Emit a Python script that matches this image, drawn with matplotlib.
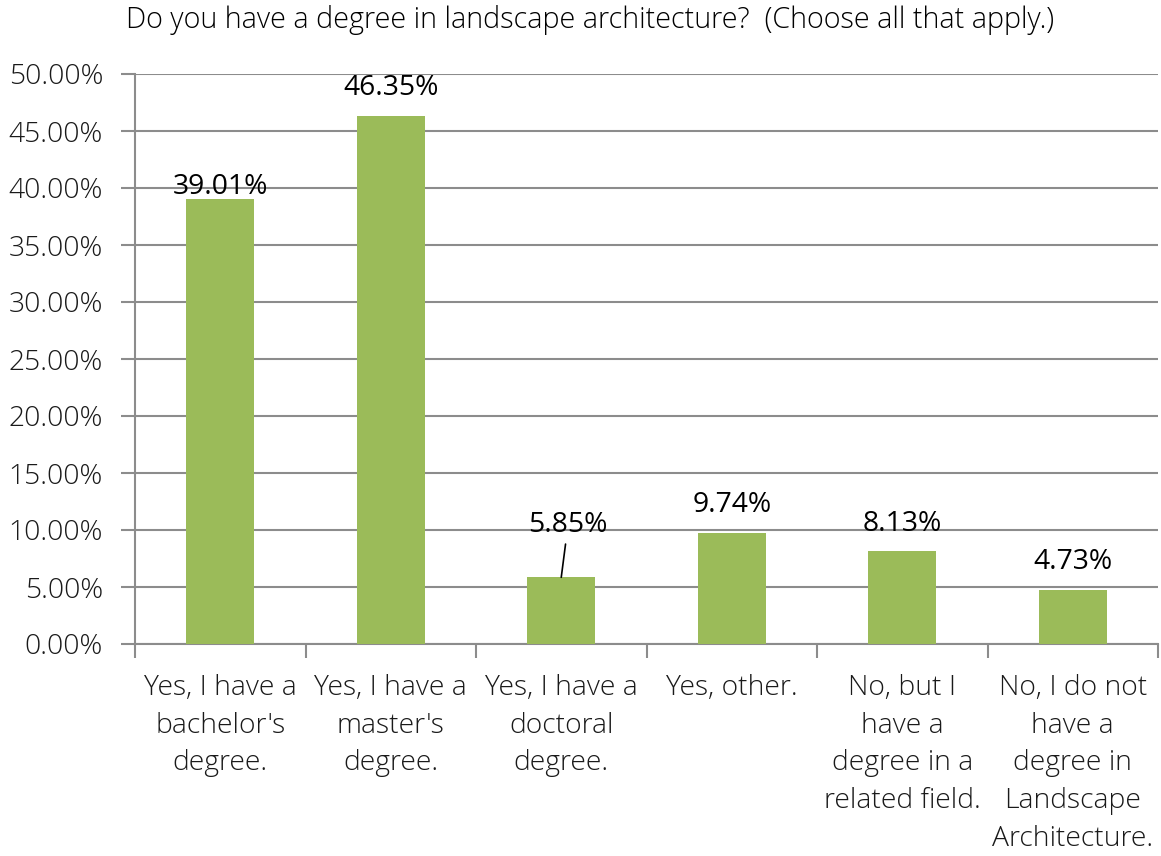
import numpy as np
import matplotlib.pyplot as plt
from matplotlib.ticker import FuncFormatter

title = 'Do you have a degree in landscape architecture?  (Choose all that apply.)'
categories = ["Yes, I have a\nbachelor's\ndegree.",
              "Yes, I have a\nmaster's\ndegree.",
              "Yes, I have a\ndoctoral\ndegree.",
              "Yes, other.",
              "No, but I\nhave a\ndegree in a\nrelated field.",
              "No, I do not\nhave a\ndegree in\nLandscape\nArchitecture."]
values = [39.01, 46.35, 5.85, 9.74, 8.13, 4.73]

plt.rcParams['font.family'] = ['Open Sans', 'DejaVu Sans']
fig = plt.figure(figsize=(11.61, 8.56), dpi=100)
ax = fig.add_axes([135/1161, 1-644/856, (1158-135)/1161, (644-74)/856])

grid_col = '#8c8c8c'
fs = 20.3
x = np.arange(len(values))
ax.bar(x, values, width=0.4, color='#9bbb59', zorder=3)
ax.set_xlim(-0.5, len(values) - 0.5)
ax.set_ylim(0, 50)
ax.set_yticks(np.arange(0, 50.1, 5))
ax.yaxis.set_major_formatter(FuncFormatter(lambda v, p: '%.2f%%' % v))
ax.yaxis.grid(True, color=grid_col, lw=1.5, zorder=0)
ax.set_axisbelow(True)

ax.set_xticks(np.arange(-0.5, len(values)), minor=False)
ax.set_xticklabels([])
ax.set_xticks(x, minor=True)
ax.set_xticklabels(categories, minor=True, fontsize=fs, linespacing=1.46,
                   va='top', color='#1a1a1a', fontweight='light')
ax.tick_params(axis='x', which='minor', length=0, pad=21.5)
ax.tick_params(axis='x', which='major', length=10, width=1.5, color=grid_col)
ax.tick_params(axis='y', length=10, width=1.5, color=grid_col, labelsize=fs, pad=13,
               labelcolor='#1a1a1a')
for t in ax.get_yticklabels():
    t.set_fontweight('light')

for s in ['top', 'right']:
    ax.spines[s].set_visible(False)
for s in ['left', 'bottom']:
    ax.spines[s].set_color(grid_col)
    ax.spines[s].set_linewidth(1.5)

# data labels
offsets = [9, 20, 0, 20, 20, 20]
for i, v in enumerate(values):
    if i == 2:
        ax.annotate('%.2f%%' % v, xy=(i, v), xytext=(i + 0.04, v + 3.4),
                    ha='center', va='bottom', fontsize=fs,
                    arrowprops=dict(arrowstyle='-', color='black', lw=1.2,
                                    shrinkA=2, shrinkB=0))
    else:
        ax.annotate('%.2f%%' % v, xy=(i, v), xytext=(0, offsets[i]),
                    textcoords='offset points', ha='center', va='center',
                    fontsize=fs)

fig.text(590/1161, 1-20/856, title, ha='center', va='center', fontsize=20.7,
         fontweight='light')

fig.savefig('out.png', dpi=100)
